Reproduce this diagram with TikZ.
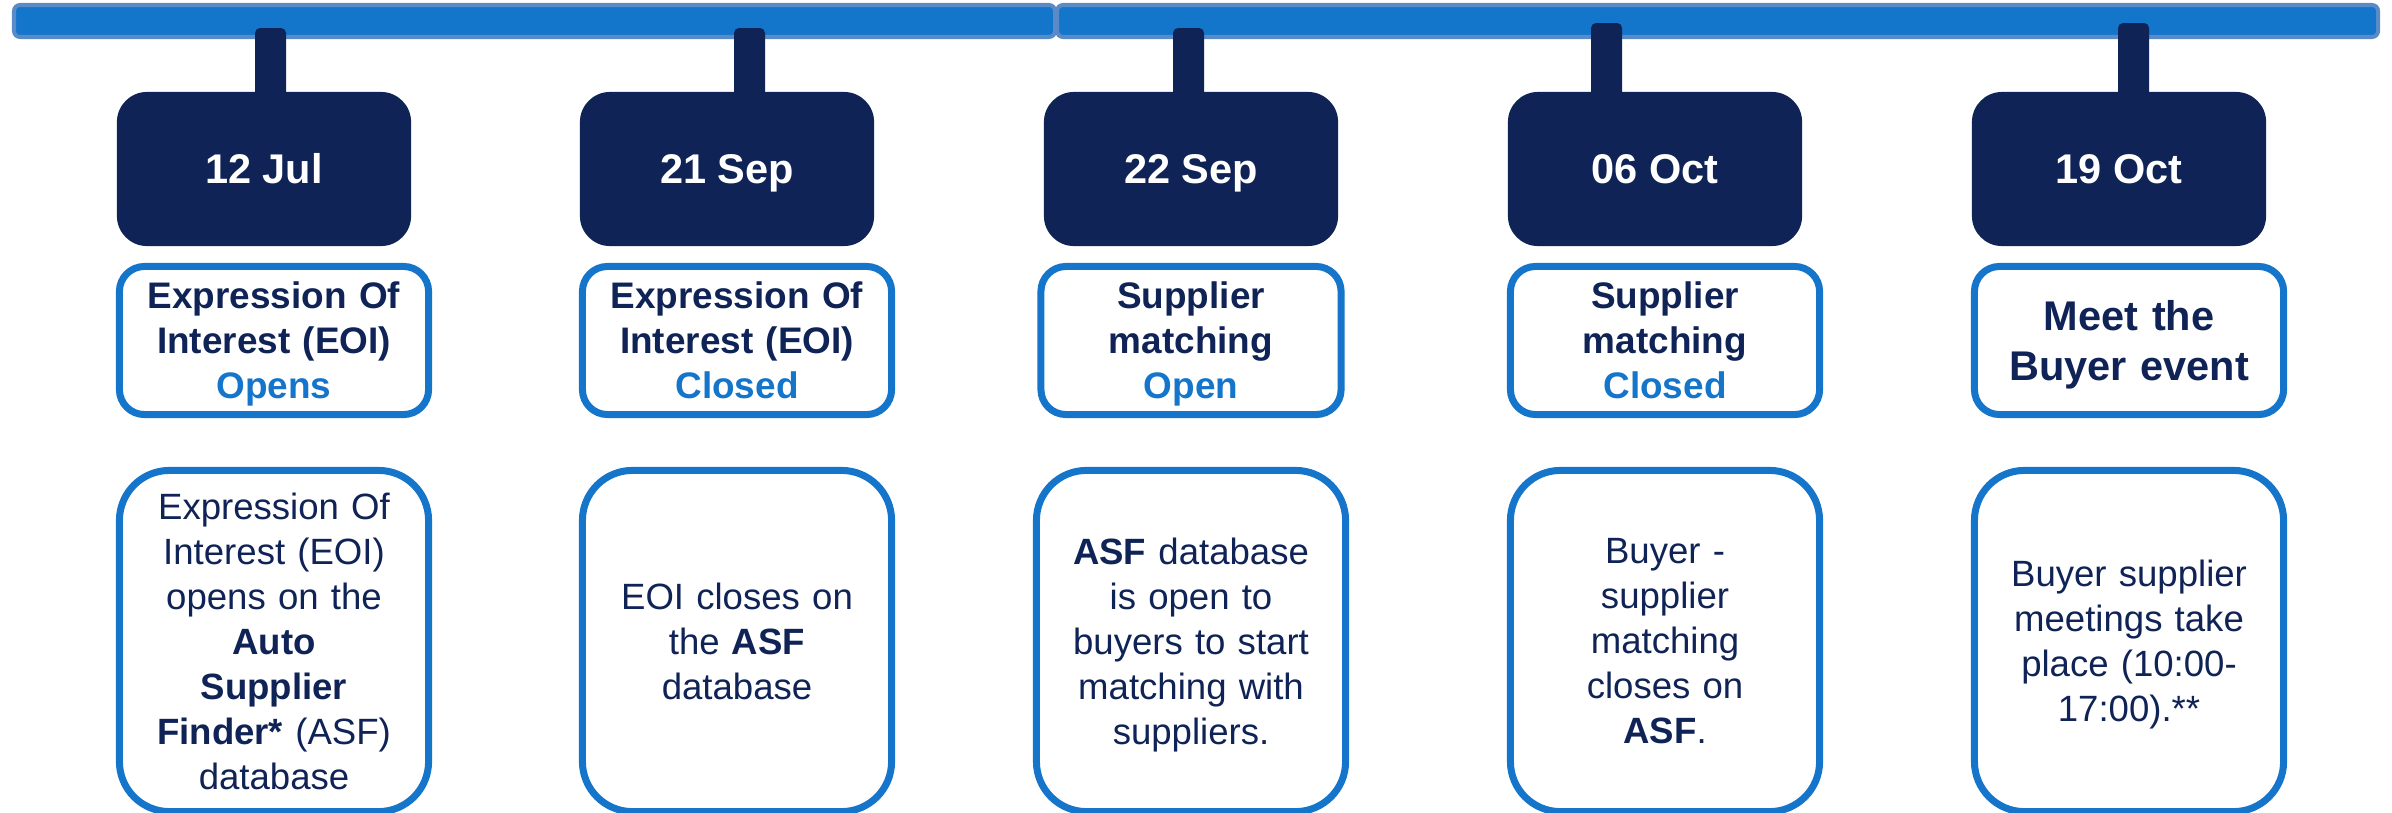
\documentclass[tikz,border=0pt]{standalone}
\usepackage{fontspec}
\setmainfont{Liberation Sans}
\usetikzlibrary{calc}
\definecolor{navy}{HTML}{0F2356}
\definecolor{lblue}{HTML}{1475CA}
\definecolor{barblue}{HTML}{1476CB}
\definecolor{barrim}{HTML}{5A8BC6}
\tikzset{
  datebox/.style={fill=navy, text=white, rounded corners=0.3cm, minimum width=2.94cm, minimum height=1.54cm, inner sep=0pt, text height=8.5pt, text depth=0pt, font=\bfseries\fontsize{11.8}{14}\selectfont},
  titlebox/.style={draw=lblue, fill=white, line width=0.07cm, rounded corners=0.25cm, minimum width=3.09cm, minimum height=1.48cm, text width=3.0cm, align=center, inner sep=0pt, text=navy, font=\bfseries\fontsize{10.5}{12.8}\selectfont},
  descbox/.style={draw=lblue, fill=white, line width=0.07cm, rounded corners=0.5cm, minimum width=3.09cm, minimum height=3.41cm, text width=3.0cm, align=center, inner sep=0pt, text=navy, font=\fontsize{10.4}{12.8}\selectfont}
}
\begin{document}
\begin{tikzpicture}[x=0.01cm,y=-0.01cm]
\useasboundingbox (0,0) rectangle (2392,812);
% timeline bar
\draw[barrim, fill=barblue, line width=0.04cm, rounded corners=0.06cm] (14,5) rectangle (1055,37);
\draw[barrim, fill=barblue, line width=0.04cm, rounded corners=0.06cm] (1057,5) rectangle (2378,37);
% stems and dates
\foreach \i/\dl/\sl/\st/\dat in {1/117/255/28/12 Jul, 2/580/734/28/21 Sep, 3/1044/1173/28/22 Sep, 4/1508/1591/23/06 Oct, 5/1972/2118/23/19 Oct} {
  \fill[navy, rounded corners=0.05cm] (\sl,\st) rectangle ++(31,90);
  \node[datebox] (d\i) at (\dl+147,169) {\dat};
}
% titles
\node[titlebox] (t1) at (274,340.5) {Expression Of\\Interest (EOI)\\\textcolor{lblue}{\smash{Opens}}};
\node[titlebox] (t2) at (737,340.5) {Expression Of\\Interest (EOI)\\\textcolor{lblue}{Closed}};
\node[titlebox, minimum width=2.89cm] (t3) at (1191,340.5) {Supplier\\matching\\\textcolor{lblue}{\smash{Open}}};
\node[titlebox] (t4) at (1665,340.5) {Supplier\\matching\\\textcolor{lblue}{Closed}};
\node[titlebox, font=\bfseries\fontsize{11.8}{14.2}\selectfont] (t5) at (2129,340.5) {Meet the\\\smash{Buyer event}};
% descriptions
\node[descbox] (s1) at (274,641) {Expression Of\\Interest (EOI)\\opens on the\\\textbf{Auto}\\\textbf{Supplier}\\\textbf{Finder*} (ASF)\\database};
\node[descbox] (s2) at (737,641) {EOI closes on\\the \textbf{ASF}\\database};
\node[descbox] (s3) at (1191,641) {\textbf{ASF} database\\is open to\\buyers to start\\matching with\\\smash{suppliers.}};
\node[descbox] (s4) at (1665,641) {Buyer -\\supplier\\matching\\closes on\\\textbf{ASF}.};
\node[descbox] (s5) at (2129,641) {Buyer supplier\\meetings take\\place (10:00-\\\smash{17:00).**}};
\end{tikzpicture}
\end{document}
